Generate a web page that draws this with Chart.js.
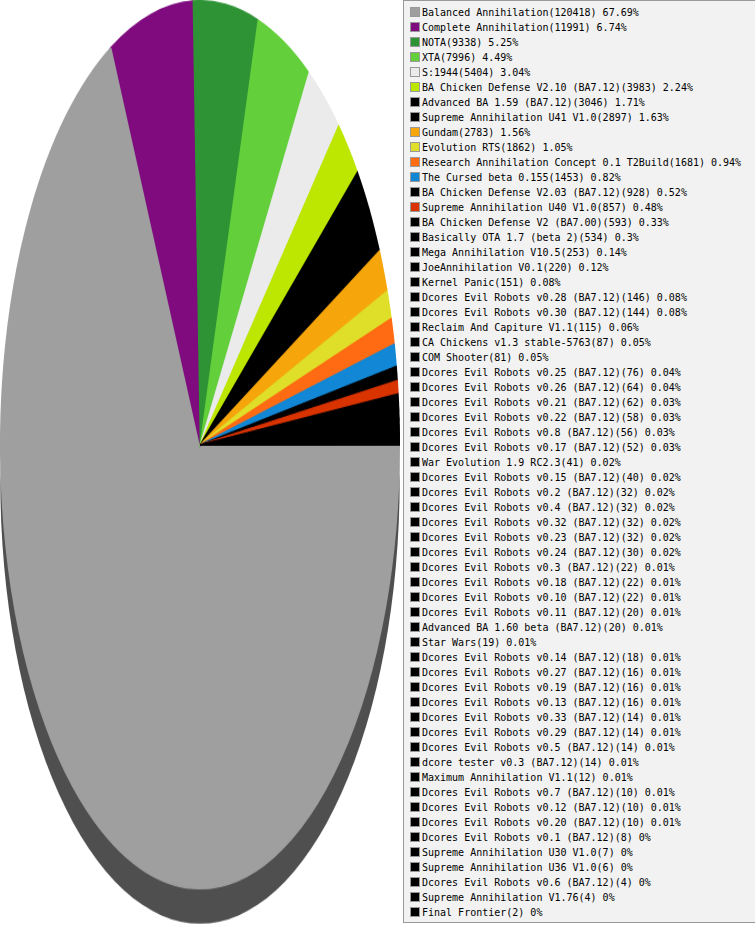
<!DOCTYPE html>
<html>
<head>
<meta charset="utf-8">
<script src="https://cdn.jsdelivr.net/npm/chart.js@4.4.1/dist/chart.umd.min.js"></script>
<style>
  html, body { margin: 0; padding: 0; background: #fff; overflow: hidden; }
  #wrap { position: relative; width: 755px; height: 925px; }
  #pie { position: absolute; left: 0; top: 0; }
  #legend {
    position: absolute; left: 403px; top: 0; width: 380px; height: 921px;
    background: #f2f2f2; border: 1px solid #999; box-sizing: content-box;
    font-family: "DejaVu Sans Mono", monospace; font-size: 10px; color: #000;
  }
  #legend .row { position: absolute; left: 6px; height: 15px; line-height: 15px; white-space: nowrap; }
  #legend .box {
    display: inline-block; width: 8px; height: 8px; border: 1px solid #999;
    vertical-align: -1px; margin-right: 2px;
  }
</style>
</head>
<body>
<div id="wrap">
  <!-- drawn square, stretched tall by css so the pie becomes an ellipse -->
  <canvas id="pie" width="400" height="416" style="width:400px;height:925px"></canvas>
  <div id="legend"></div>
</div>
<script>
// mods played, by number of games
const modNames = [
  'Balanced Annihilation', 'Complete Annihilation', 'NOTA', 'XTA', 'S:1944',
  'BA Chicken Defense V2.10 (BA7.12)', 'Advanced BA 1.59 (BA7.12)', 'Supreme Annihilation U41 V1.0',
  'Gundam', 'Evolution RTS', 'Research Annihilation Concept 0.1 T2Build', 'The Cursed beta 0.155',
  'BA Chicken Defense V2.03 (BA7.12)', 'Supreme Annihilation U40 V1.0', 'BA Chicken Defense V2 (BA7.00)',
  'Basically OTA 1.7 (beta 2)', 'Mega Annihilation V10.5', 'JoeAnnihilation V0.1', 'Kernel Panic',
  'Dcores Evil Robots v0.28 (BA7.12)', 'Dcores Evil Robots v0.30 (BA7.12)', 'Reclaim And Capiture V1.1',
  'CA Chickens v1.3 stable-5763', 'COM Shooter', 'Dcores Evil Robots v0.25 (BA7.12)',
  'Dcores Evil Robots v0.26 (BA7.12)', 'Dcores Evil Robots v0.21 (BA7.12)', 'Dcores Evil Robots v0.22 (BA7.12)',
  'Dcores Evil Robots v0.8 (BA7.12)', 'Dcores Evil Robots v0.17 (BA7.12)', 'War Evolution 1.9 RC2.3',
  'Dcores Evil Robots v0.15 (BA7.12)', 'Dcores Evil Robots v0.2 (BA7.12)', 'Dcores Evil Robots v0.4 (BA7.12)',
  'Dcores Evil Robots v0.32 (BA7.12)', 'Dcores Evil Robots v0.23 (BA7.12)', 'Dcores Evil Robots v0.24 (BA7.12)',
  'Dcores Evil Robots v0.3 (BA7.12)', 'Dcores Evil Robots v0.18 (BA7.12)', 'Dcores Evil Robots v0.10 (BA7.12)',
  'Dcores Evil Robots v0.11 (BA7.12)', 'Advanced BA 1.60 beta (BA7.12)', 'Star Wars',
  'Dcores Evil Robots v0.14 (BA7.12)', 'Dcores Evil Robots v0.27 (BA7.12)', 'Dcores Evil Robots v0.19 (BA7.12)',
  'Dcores Evil Robots v0.13 (BA7.12)', 'Dcores Evil Robots v0.33 (BA7.12)', 'Dcores Evil Robots v0.29 (BA7.12)',
  'Dcores Evil Robots v0.5 (BA7.12)', 'dcore tester v0.3 (BA7.12)', 'Maximum Annihilation V1.1',
  'Dcores Evil Robots v0.7 (BA7.12)', 'Dcores Evil Robots v0.12 (BA7.12)', 'Dcores Evil Robots v0.20 (BA7.12)',
  'Dcores Evil Robots v0.1 (BA7.12)', 'Supreme Annihilation U30 V1.0', 'Supreme Annihilation U36 V1.0',
  'Dcores Evil Robots v0.6 (BA7.12)', 'Supreme Annihilation V1.76', 'Final Frontier'
];

const gameCounts = [
  120418, 11991, 9338, 7996, 5404,
  3983, 3046, 2897,
  2783, 1862, 1681, 1453,
  928, 857, 593,
  534, 253, 220, 151,
  146, 144, 115,
  87, 81, 76,
  64, 62, 58,
  56, 52, 41,
  40, 32, 32,
  32, 32, 30,
  22, 22, 22,
  20, 20, 19,
  18, 16, 16,
  16, 14, 14,
  14, 14, 12,
  10, 10, 10,
  8, 7, 6,
  4, 4, 2
];

// colours of the first slices, everything after is black
const sliceColors = [
  '#9f9f9f', '#7f0b7e', '#2e9335', '#62cf3b', '#ebebeb', '#bde600', '#000000', '#000000',
  '#f6a50a', '#dfdf2a', '#ff6b12', '#1187d6', '#000000', '#d93300'
];
const colors = modNames.map((n, i) => sliceColors[i] || '#000000');

const total = gameCounts.reduce((a, b) => a + b, 0);

// dark copy of the pie drawn a bit lower, gives the 3d look
const shadowPlugin = {
  id: 'pieShadow',
  beforeDatasetsDraw(chart) {
    const arc = chart.getDatasetMeta(0).data[0];
    if (!arc) return;
    const ctx = chart.ctx;
    ctx.save();
    ctx.fillStyle = '#4f4f4f';
    ctx.beginPath();
    ctx.arc(arc.x, arc.y + 15.7, arc.outerRadius, 0, Math.PI * 2);
    ctx.fill();
    ctx.restore();
  }
};

const chart = new Chart(document.getElementById('pie'), {
  type: 'pie',
  data: {
    labels: modNames,
    datasets: [{
      data: gameCounts,
      backgroundColor: colors,
      // stroke in the slice's own colour so the thin slices don't leave seams
      borderColor: colors,
      borderWidth: 0.6,
      borderJoinStyle: 'miter'
    }]
  },
  options: {
    responsive: false,
    devicePixelRatio: 2,
    animation: false,
    rotation: 90,
    layout: { padding: { bottom: 16 } },
    plugins: {
      legend: { display: false },
      tooltip: { enabled: false }
    }
  },
  plugins: [shadowPlugin]
});

// html legend down the right side
const legend = document.getElementById('legend');
modNames.forEach(function(name, i) {
  const pct = Math.round(gameCounts[i] / total * 10000) / 100;
  const row = document.createElement('div');
  row.className = 'row';
  row.style.top = (4 + i * 15) + 'px';
  const box = document.createElement('span');
  box.className = 'box';
  box.style.background = colors[i];
  row.appendChild(box);
  row.appendChild(document.createTextNode(name + '(' + gameCounts[i] + ') ' + pct + '%'));
  legend.appendChild(row);
});
</script>
</body>
</html>
